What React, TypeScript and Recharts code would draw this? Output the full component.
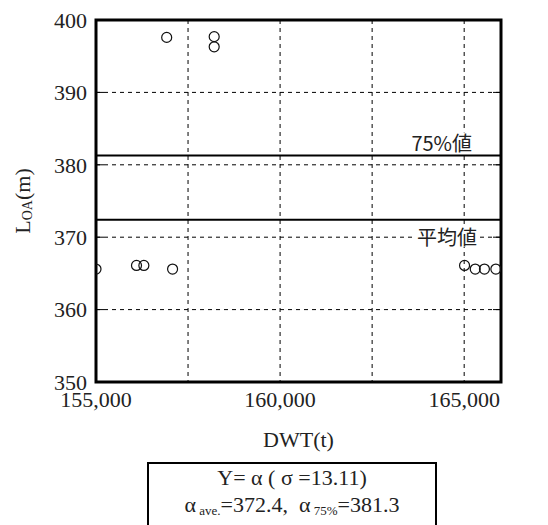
import React from "react";
import {
  ScatterChart,
  Scatter,
  XAxis,
  YAxis,
  CartesianGrid,
  ReferenceLine,
  ReferenceArea,
} from "recharts";

// DWT (t) and LOA (m) of each ship
const dwt = [155000, 156100, 156300, 157080, 156920, 158210, 158210, 165010, 165300, 165550, 165860];
const loa = [365.6, 366.1, 366.1, 365.6, 397.6, 397.7, 396.3, 366.1, 365.6, 365.6, 365.6];

const xTicks = [155000, 157500, 160000, 162500, 165000];
const xLabelled = [155000, 160000, 165000];
const yTicks = [350, 360, 370, 380, 390, 400];

const aveValue = 372.4;
const p75Value = 381.3;
const sigma = 13.11;

const FONT = "Liberation Serif, DejaVu Serif, serif";
const JP = "Noto Sans CJK JP, sans-serif";

const points = dwt.map((x, i) => ({ dwt: x, loa: loa[i] }));

const gridLine = (props: any) => {
  const { x1, x2, y1, y2 } = props;
  return (
    <g key={`h-${y1}`}>
      <line x1={x1} x2={x2} y1={y1} y2={y2} stroke="#000" strokeWidth={1} strokeDasharray="4 4" />
      <line x1={x1} x2={x1 + 8} y1={y1} y2={y2} stroke="#000" strokeWidth={1} />
      <line x1={x2 - 8} x2={x2} y1={y1} y2={y2} stroke="#000" strokeWidth={1} />
    </g>
  );
};

const lineLabel = (text: string, below: boolean, rightGap: number, boxW: number) => (props: any) => {
  const { viewBox } = props;
  const xEnd = viewBox.x + viewBox.width - rightGap;
  const cy = below ? viewBox.y + 17 : viewBox.y - 13;
  return (
    <g>
      <rect x={xEnd - boxW - 2} y={cy - 10} width={boxW + 4} height={20} fill="#fff" />
      <text x={xEnd} y={cy} textAnchor="end" dominantBaseline="central" fontSize={20} fontFamily={JP} fill="#222">
        {text}
      </text>
    </g>
  );
};

const yLabel = (props: any) => {
  const { viewBox } = props;
  const cx = viewBox.x - 14;
  const cy = viewBox.y + viewBox.height / 2;
  return (
    <text
      x={cx}
      y={cy}
      transform={`rotate(-90, ${cx}, ${cy})`}
      textAnchor="middle"
      dominantBaseline="central"
      fontSize={22}
      fontFamily={FONT}
      fill="#222"
    >
      L
      <tspan fontSize={14} dy={5}>OA</tspan>
      <tspan dy={-5}>(m)</tspan>
    </text>
  );
};

const xLabel = (props: any) => {
  const { viewBox } = props;
  return (
    <text
      x={viewBox.x + viewBox.width / 2}
      y={439}
      textAnchor="middle"
      dominantBaseline="central"
      fontSize={22}
      fontFamily={FONT}
      fill="#222"
    >
      DWT(t)
    </text>
  );
};

const ring = (props: any) => (
  <circle cx={props.cx} cy={props.cy} r={5} fill="none" stroke="#111" strokeWidth={1.2} />
);

export default function App() {
  return (
    <div
      style={{
        position: "absolute",
        top: 0,
        left: 0,
        width: 548,
        height: 525,
        overflow: "hidden",
        background: "#fff",
        fontFamily: FONT,
      }}
    >
      <ScatterChart
        width={548}
        height={525}
        margin={{ top: 20, right: 47, bottom: 113, left: 36 }}
        style={{ fontFamily: FONT }}
      >
        <CartesianGrid stroke="#000" strokeDasharray="4 4" horizontal={gridLine} />
        <XAxis
          type="number"
          dataKey="dwt"
          domain={[155000, 166000]}
          ticks={xTicks}
          allowDataOverflow
          height={30}
          axisLine={false}
          tickLine={false}
          tickSize={0}
          tickMargin={9}
          tick={{ fontSize: 22, fontFamily: FONT, fill: "#222" }}
          tickFormatter={(v: number) => (xLabelled.includes(v) ? v.toLocaleString("en-US") : "")}
          label={xLabel}
        />
        <YAxis
          type="number"
          dataKey="loa"
          domain={[350, 400]}
          ticks={yTicks}
          allowDataOverflow
          width={60}
          axisLine={false}
          tickLine={false}
          tickSize={0}
          tickMargin={9}
          tick={{ fontSize: 22, fontFamily: FONT, fill: "#222" }}
          label={yLabel}
        />
        <ReferenceLine y={p75Value} stroke="#000" strokeWidth={2} label={lineLabel("75%値", false, 29, 54)} />
        <ReferenceLine y={aveValue} stroke="#000" strokeWidth={2} label={lineLabel("平均値", true, 24, 62)} />
        <ReferenceArea x1={155000} x2={166000} y1={350} y2={400} fill="none" stroke="#000" strokeWidth={3} />
        <Scatter data={points} shape={ring} isAnimationActive={false} />
      </ScatterChart>
      <div
        style={{
          position: "absolute",
          left: 147,
          top: 462,
          width: 290,
          height: 80,
          boxSizing: "border-box",
          border: "2px solid #000",
          textAlign: "center",
          fontFamily: FONT,
          fontSize: 22,
          lineHeight: "27px",
          color: "#222",
        }}
      >
        <div>Y= α ( σ ={sigma.toFixed(2)})</div>
        <div>
          α<sub style={{ fontSize: 13, verticalAlign: "-3px" }}> ave.</sub>={aveValue.toFixed(1)},&nbsp; α
          <sub style={{ fontSize: 13, verticalAlign: "-3px" }}> 75%</sub>={p75Value.toFixed(1)}
        </div>
      </div>
    </div>
  );
}
